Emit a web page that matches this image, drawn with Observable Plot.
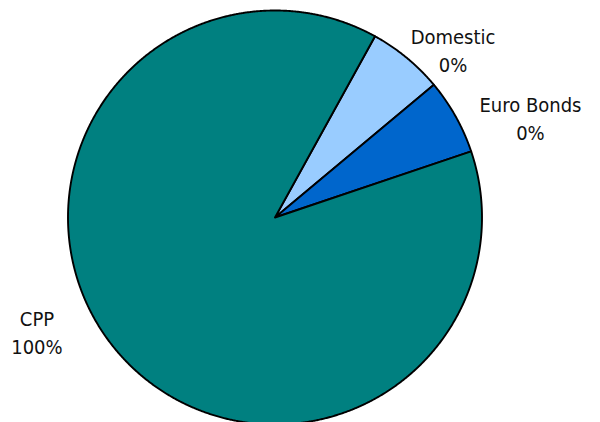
<!DOCTYPE html>
<html>
<head>
<meta charset="utf-8">
<script src="https://cdn.jsdelivr.net/npm/d3@7"></script>
<script src="https://cdn.jsdelivr.net/npm/@observablehq/plot@0.6"></script>
<style>
  html, body { margin: 0; padding: 0; background: #fff; }
  #chart { width: 600px; height: 422px; overflow: hidden; }
</style>
</head>
<body>
<div id="chart"></div>
<script>
// Data
const categories = ["Domestic", "Euro Bonds", "CPP"];
const values = [5.9, 5.9, 88.2];          // slice sizes as drawn
const percentLabels = ["0%", "0%", "100%"]; // label text as printed
const colors = ["#99CCFF", "#0066CC", "#008080"];

// Layout (not data)
const startDeg = 28.9;
const labelPos = [[0.86, 0.812], [1.234, 0.486], [-1.15, -0.548]];

const pie = d3.pie().sort(null).value(d => d.value)
  .startAngle(startDeg * Math.PI / 180)
  .endAngle((startDeg + 360) * Math.PI / 180);
const arcs = pie(categories.map((c, i) => ({name: c, value: values[i]})));

const pts = [];
arcs.forEach(a => {
  const name = a.data.name;
  pts.push({name, x: 0, y: 0});
  const n = Math.max(2, Math.ceil((a.endAngle - a.startAngle) / (0.25 * Math.PI / 180)));
  for (let k = 0; k <= n; k++) {
    const t = a.startAngle + (a.endAngle - a.startAngle) * k / n;
    pts.push({name, x: Math.sin(t), y: Math.cos(t)});
  }
  pts.push({name, x: 0, y: 0});
});

const labels = categories.map((c, i) => ({
  text: c + "\n" + percentLabels[i], x: labelPos[i][0], y: labelPos[i][1]
}));

const chart = Plot.plot({
  width: 600,
  height: 422,
  x: {domain: [-1, 1], range: [67.5, 481.5], axis: null},
  y: {domain: [-1, 1], range: [424, 10], axis: null},
  color: {domain: categories, range: colors},
  style: {background: "#fff"},
  marks: [
    Plot.line(pts, {x: "x", y: "y", z: "name", fill: "name", stroke: "#000",
      strokeWidth: 1.9, strokeLinejoin: "round", curve: "linear"}),
    Plot.text(labels, {x: "x", y: "y", text: "text", fontSize: 20,
      fontFamily: "DejaVu Sans Condensed", fill: "#111", lineHeight: 1.4,
      lineAnchor: "middle", textAnchor: "middle"})
  ]
});
document.getElementById("chart").appendChild(chart);
</script>
</body>
</html>
